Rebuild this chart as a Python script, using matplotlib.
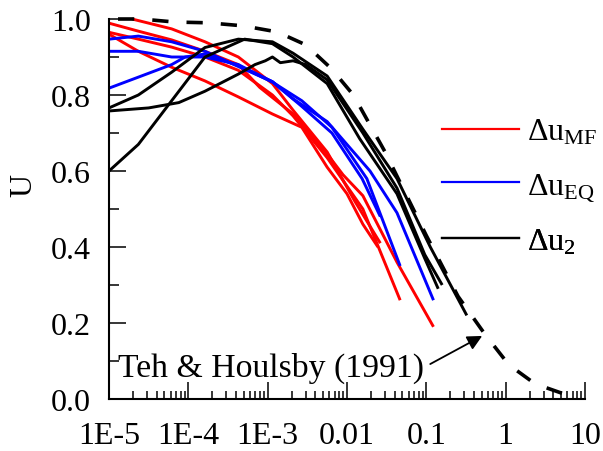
import numpy as np
import matplotlib
matplotlib.use('Agg')
import matplotlib.pyplot as plt
from matplotlib.ticker import FixedLocator, FixedFormatter, MultipleLocator, NullFormatter

plt.rcParams['font.family'] = ['Liberation Serif', 'DejaVu Serif']
plt.rcParams['mathtext.fontset'] = 'custom'
plt.rcParams['mathtext.rm'] = 'Liberation Serif'
plt.rcParams['mathtext.it'] = 'Liberation Serif:italic'

# ---------------- data (log10 T, U) ----------------
teh_logT = [-5.0, -4.6, -4.17, -3.75, -3.31, -2.88, -2.52, -2.20, -1.92, -1.52, -1.0, -0.6, -0.26, 0.04, 0.37, 0.78]
teh_U    = [1.0, 1.0, 0.992, 0.99, 0.982, 0.966, 0.932, 0.87, 0.80, 0.65, 0.43, 0.27, 0.17, 0.09, 0.04, 0.01]

# red: Delta u_MF
red_a_logT = [-5.0, -4.63, -4.21, -3.79, -3.37, -3.10, -2.68, -2.25, -2.05, -1.80, -1.37, -0.91]
red_a_U    = [0.989, 0.968, 0.945, 0.915, 0.88, 0.82, 0.75, 0.645, 0.59, 0.535, 0.36, 0.19]
red_b_logT = [-5.0, -4.63, -4.21, -3.79, -3.37, -2.94, -2.68, -2.25, -1.80, -1.33]
red_b_U    = [0.965, 0.947, 0.926, 0.90, 0.865, 0.80, 0.745, 0.635, 0.50, 0.26]
red_c_logT = [-5.0, -4.63, -4.21, -3.79, -3.37, -2.94, -2.57, -2.25, -2.0, -1.8, -1.61]
red_c_U    = [0.96, 0.915, 0.873, 0.837, 0.795, 0.75, 0.715, 0.61, 0.54, 0.46, 0.40]
red_d_logT = [-4.71, -4.21, -3.79, -3.37, -2.94, -2.68, -2.25, -1.90, -1.58]
red_d_U    = [1.0, 0.974, 0.94, 0.90, 0.83, 0.76, 0.65, 0.52, 0.41]

# blue: Delta u_EQ
blue_a_logT = [-5.0, -4.63, -4.21, -3.79, -3.37, -2.94, -2.68, -2.25, -1.71, -1.37, -0.91]
blue_a_U    = [0.947, 0.955, 0.94, 0.915, 0.875, 0.835, 0.79, 0.73, 0.60, 0.49, 0.26]
blue_b_logT = [-5.0, -4.63, -4.21, -4.0, -3.79, -3.37, -2.94, -2.57, -2.19, -1.81, -1.58]
blue_b_U    = [0.915, 0.915, 0.90, 0.90, 0.90, 0.88, 0.835, 0.77, 0.70, 0.58, 0.48]
blue_c_logT = [-5.0, -4.63, -4.21, -4.04, -3.79, -3.37, -2.94, -2.57, -2.19, -1.75, -1.33]
blue_c_U    = [0.818, 0.847, 0.88, 0.90, 0.908, 0.877, 0.834, 0.785, 0.715, 0.58, 0.35]

# black: Delta u_2
black_a_logT = [-5.0, -4.63, -4.21, -3.79, -3.37, -2.94, -2.68, -2.25, -1.80, -1.37, -0.95, -0.49]
black_a_U    = [0.766, 0.80, 0.86, 0.925, 0.947, 0.94, 0.91, 0.85, 0.71, 0.58, 0.40, 0.22]
black_b_logT = [-5.0, -4.5, -4.12, -3.79, -3.37, -3.16, -3.03, -2.94, -2.84, -2.68, -2.52, -2.25, -1.80, -1.37, -1.02, -0.80]
black_b_U    = [0.758, 0.766, 0.78, 0.81, 0.855, 0.88, 0.89, 0.90, 0.885, 0.89, 0.88, 0.84, 0.70, 0.555, 0.38, 0.30]
black_c_logT = [-5.0, -4.63, -4.21, -3.79, -3.29, -2.94, -2.68, -2.25, -1.84, -1.37, -1.02, -0.85]
black_c_U    = [0.60, 0.67, 0.785, 0.90, 0.947, 0.935, 0.90, 0.83, 0.685, 0.54, 0.37, 0.29]

series_labels = ['Δu$_{\\mathrm{MF}}$', 'Δu$_{\\mathrm{EQ}}$', 'Δu$_{\\mathrm{2}}$']

x_tick_vals = [1e-5, 1e-4, 1e-3, 1e-2, 1e-1, 1, 10]
x_tick_labels = ['1E-5', '1E-4', '1E-3', '0.01', '0.1', '1', '10']
y_tick_vals = [0.0, 0.2, 0.4, 0.6, 0.8, 1.0]
y_tick_labels = ['0.0', '0.2', '0.4', '0.6', '0.8', '1.0']

# ---------------- figure ----------------
fig = plt.figure(figsize=(6.03, 4.52), dpi=100)
ax = fig.add_axes([109/603, 1-400/452, 476/603, 380/452])

def T(v):
    return 10.0 ** np.asarray(v)

RED, BLUE, BLACK = '#ff0000', '#0000ff', '#000000'
lw = 2.1
for lt, u in [(red_a_logT, red_a_U), (red_b_logT, red_b_U), (red_c_logT, red_c_U), (red_d_logT, red_d_U)]:
    ax.plot(T(lt), u, color=RED, lw=lw, clip_on=False, solid_capstyle='butt')
for lt, u in [(blue_a_logT, blue_a_U), (blue_b_logT, blue_b_U), (blue_c_logT, blue_c_U)]:
    ax.plot(T(lt), u, color=BLUE, lw=lw, solid_capstyle='butt')
for lt, u in [(black_a_logT, black_a_U), (black_b_logT, black_b_U), (black_c_logT, black_c_U)]:
    ax.plot(T(lt), u, color=BLACK, lw=lw, solid_capstyle='butt')

ax.plot(T(teh_logT), teh_U, color='black', lw=2.6, linestyle=(7.0, (4.5, 5.0)),
        dash_capstyle='butt', clip_on=False)

# legend: one single-entry legend per row so the rows are evenly spaced
legend_rows = [(RED, series_labels[0], 0.702), (BLUE, series_labels[1], 0.558), (BLACK, series_labels[2], 0.415)]
for color, label, ypos in legend_rows:
    h, = ax.plot([], [], color=color, lw=1.6)
    lg = ax.legend([h], [label], loc='center left', bbox_to_anchor=(0.700, ypos),
                   frameon=False, fontsize=23, handlelength=2.4, handletextpad=0.25,
                   borderpad=0, borderaxespad=0)
    ax.add_artist(lg)

ax.set_xscale('log')
ax.set_xlim(1e-5, 10)
ax.set_ylim(0, 1.0)

ax.xaxis.set_major_locator(FixedLocator(x_tick_vals))
ax.xaxis.set_major_formatter(FixedFormatter(x_tick_labels))
minors = [m * d for d in [1e-5, 1e-4, 1e-3, 1e-2, 1e-1, 1] for m in range(2, 10)]
ax.xaxis.set_minor_locator(FixedLocator(minors))
ax.xaxis.set_minor_formatter(NullFormatter())
ax.yaxis.set_major_locator(FixedLocator(y_tick_vals))
ax.yaxis.set_major_formatter(FixedFormatter(y_tick_labels))
ax.yaxis.set_minor_locator(MultipleLocator(0.1))

for s in ['top', 'right']:
    ax.spines[s].set_visible(False)
for s in ['left', 'bottom']:
    ax.spines[s].set_linewidth(1.5)

ax.tick_params(axis='x', which='major', direction='in', length=12, width=1.1, labelsize=23, pad=16)
ax.tick_params(axis='x', which='minor', direction='in', length=6, width=1.1)
ax.tick_params(axis='y', which='major', direction='in', length=12, width=1.1, labelsize=23, pad=13)
ax.tick_params(axis='y', which='minor', direction='in', length=7, width=1.1)

ax.set_ylabel('U', fontsize=23)
ax.yaxis.set_label_coords(-0.149, 0.565)

ax.text(0.093, 0.06, 'Teh & Houlsby (1991)', fontsize=24.3, ha='right', va='baseline')
ax.annotate('', xy=(0.506, 0.166), xytext=(0.112, 0.092),
            arrowprops=dict(arrowstyle='-|>', color='black', lw=1.3, mutation_scale=22,
                            shrinkA=0, shrinkB=0))

fig.savefig('out.png', dpi=100)
